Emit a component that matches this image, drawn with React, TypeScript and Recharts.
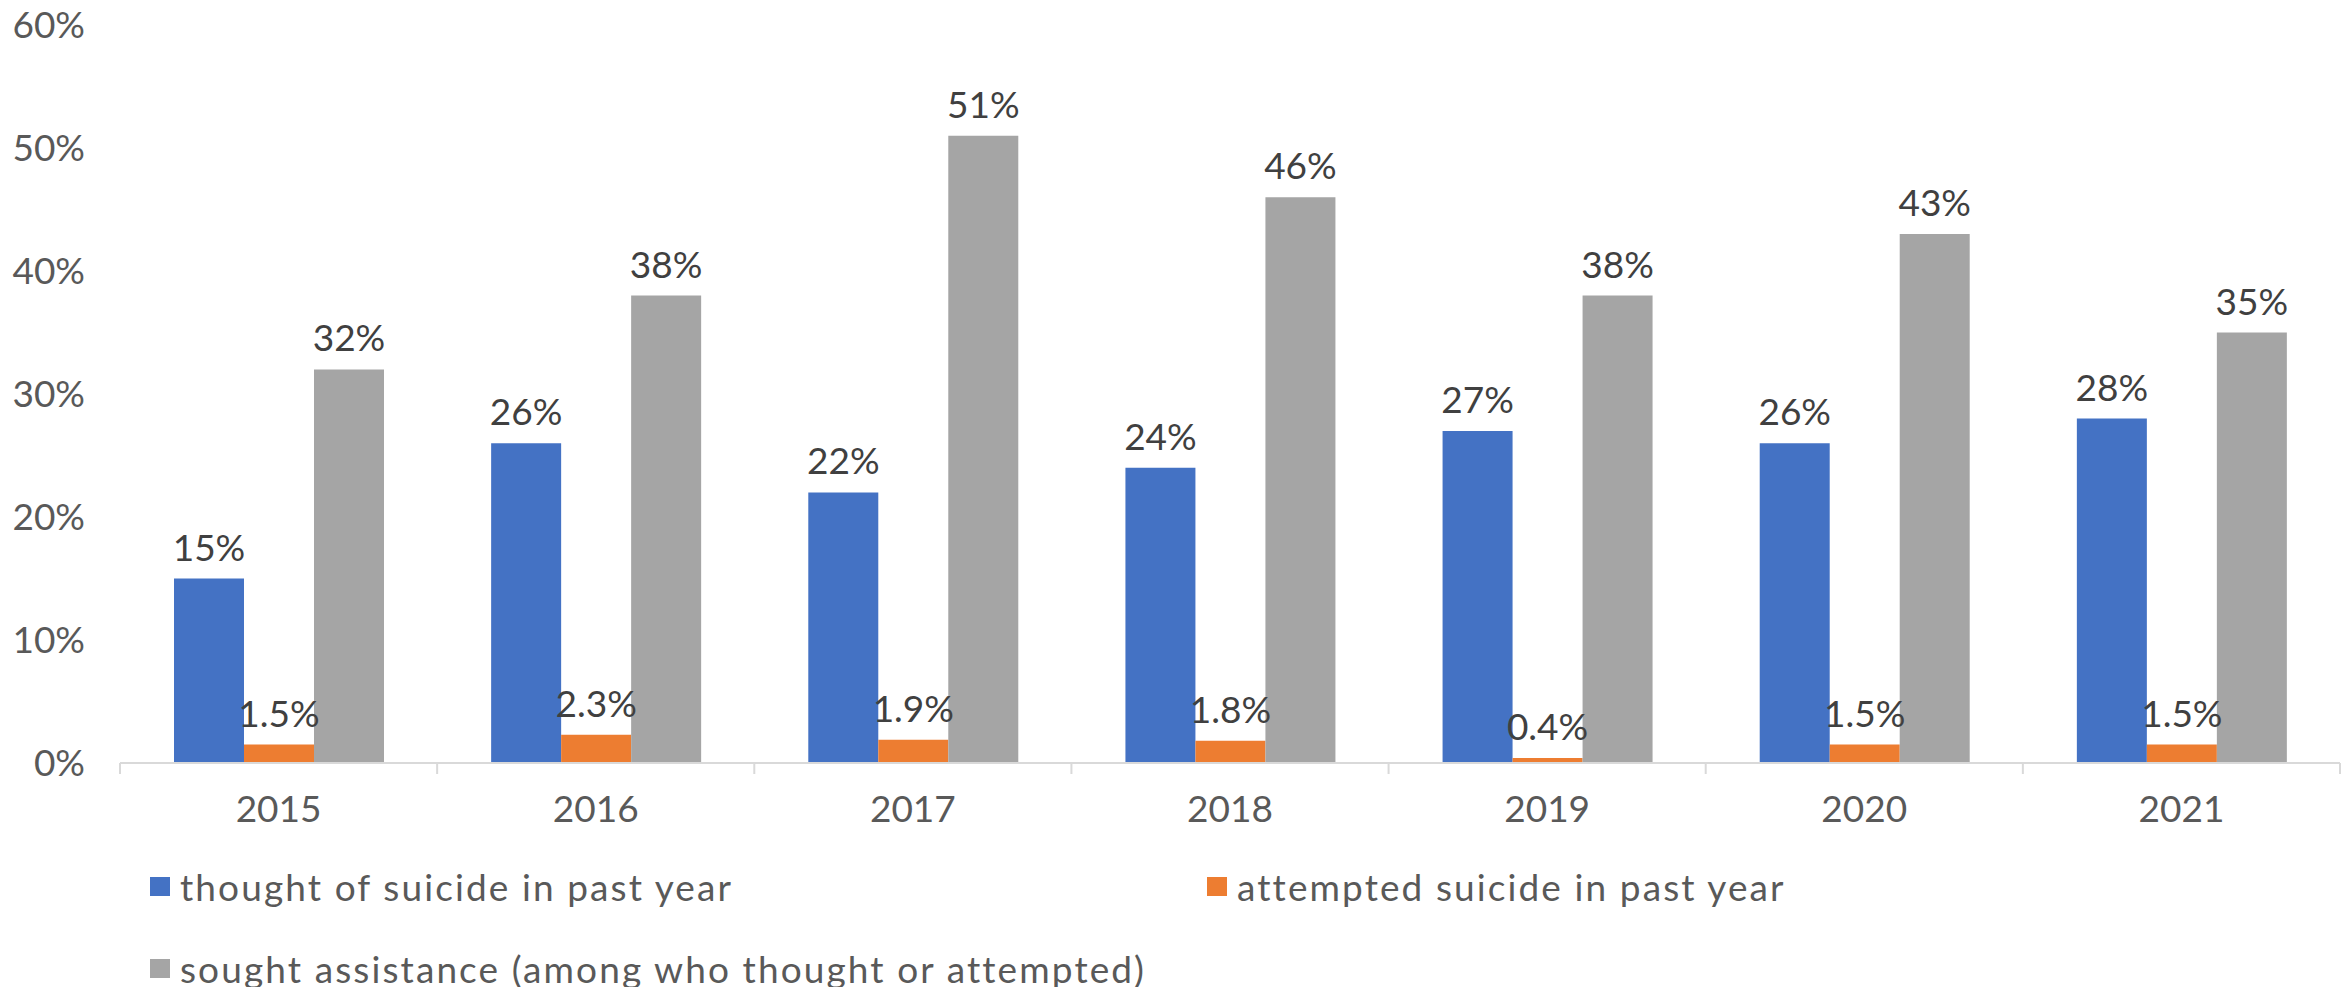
import React from "react";
import { BarChart, Bar, XAxis, YAxis, LabelList } from "recharts";

const years = ["2015", "2016", "2017", "2018", "2019", "2020", "2021"];
const thought = [15, 26, 22, 24, 27, 26, 28];
const attempted = [1.5, 2.3, 1.9, 1.8, 0.4, 1.5, 1.5];
const sought = [32, 38, 51, 46, 38, 43, 35];
const yTicks = [0, 10, 20, 30, 40, 50, 60];

const seriesInfo = [
  { key: "thought", name: "thought of suicide in past year", color: "#4472C4", decimals: 0 },
  { key: "attempted", name: "attempted suicide in past year", color: "#ED7D31", decimals: 1 },
  { key: "sought", name: "sought assistance (among who thought or attempted)", color: "#A5A5A5", decimals: 0 },
];

const FONT = "Lato, 'Open Sans', sans-serif";
const AXIS_GRAY = "#D9D9D9";
const TICK_LEN = 11;
const LABEL_GAP = 22;

// year label plus an Excel-style tick mark on the category boundaries
const YearTick = (props: any) => {
  const { x, y, payload, index } = props;
  const half = payload && payload.offset ? payload.offset : 0;
  const axisY = y - TICK_LEN - LABEL_GAP;
  return (
    <g>
      {half > 0 && (
        <line x1={x - half} x2={x - half} y1={axisY} y2={axisY + TICK_LEN} stroke={AXIS_GRAY} strokeWidth={2} />
      )}
      {half > 0 && index === years.length - 1 && (
        <line x1={x + half} x2={x + half} y1={axisY} y2={axisY + TICK_LEN} stroke={AXIS_GRAY} strokeWidth={2} />
      )}
      <text x={x} y={y} dy="0.71em" textAnchor="middle" fill="#595959" fontSize={37} fontFamily={FONT}>
        {payload.value}
      </text>
    </g>
  );
};

export default function App() {
  const data = years.map((year, i) => ({
    year,
    thought: thought[i],
    attempted: attempted[i],
    sought: sought[i],
  }));

  return (
    <div style={{ position: "absolute", left: 0, top: 0, width: 2349, height: 987, background: "#fff", fontFamily: FONT }}>
      <BarChart
        width={2349}
        height={987}
        data={data}
        barGap={0}
        margin={{ top: 25, right: 9, left: 0, bottom: 164 }}
      >
        <XAxis
          dataKey="year"
          height={60}
          tickSize={TICK_LEN}
          tickMargin={LABEL_GAP}
          axisLine={{ stroke: AXIS_GRAY, strokeWidth: 2 }}
          tickLine={false}
          tick={<YearTick />}
        />
        <YAxis
          domain={[0, 60]}
          ticks={yTicks}
          width={120}
          tickSize={0}
          tickMargin={35}
          axisLine={false}
          tickLine={false}
          tickFormatter={(v) => `${v}%`}
          tick={{ fill: "#595959", fontSize: 37, fontFamily: FONT }}
        />
        {seriesInfo.map((s) => (
          <Bar
            key={s.key}
            dataKey={s.key}
            name={s.name}
            fill={s.color}
            barSize={70}
            isAnimationActive={false}
          >
            <LabelList
              dataKey={s.key}
              position="top"
              offset={18}
              formatter={(v: number) => `${v.toFixed(s.decimals)}%`}
              style={{ fill: "#404040", fontSize: 37, fontFamily: FONT }}
            />
          </Bar>
        ))}
      </BarChart>

      {/* Legend */}
      <div
        style={{
          position: "absolute",
          left: 150,
          top: 856,
          display: "grid",
          gridTemplateColumns: "1057px 1057px",
          gridAutoRows: "82px",
          color: "#595959",
          fontSize: 37,
          letterSpacing: 2.1,
        }}
      >
        {seriesInfo.map((s) => (
          <div key={s.key} style={{ display: "flex", alignItems: "center", height: 60, whiteSpace: "nowrap" }}>
            <span style={{ display: "inline-block", width: 20, height: 19, background: s.color, marginRight: 10 }} />
            <span>{s.name}</span>
          </div>
        ))}
      </div>
    </div>
  );
}
